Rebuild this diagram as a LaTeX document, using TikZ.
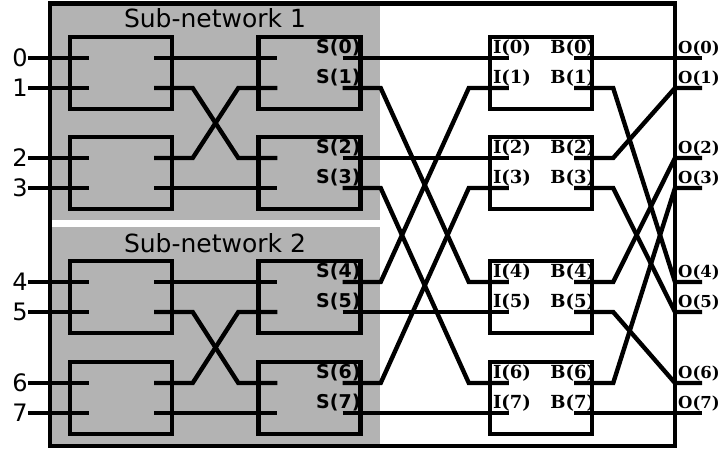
\documentclass[tikz,border=0pt]{standalone}
\usepackage{fontspec}
\setmainfont{DejaVu Sans}
\newfontfamily\portserif{DejaVu Serif}
\usepackage{tikz}
\usetikzlibrary{calc}
\definecolor{subgray}{HTML}{B3B3B3}
\tikzset{
  wire/.style={line width=4.4pt},
  swbox/.style={draw,line width=4.4pt,minimum width=102pt,minimum height=72pt,inner sep=0pt},
  netlab/.style={anchor=base,inner sep=0pt,font=\fontsize{25}{30}\selectfont},
  inlab/.style={anchor=east,inner sep=0pt,font=\fontsize{24}{28}\selectfont},
  slab/.style={anchor=base east,inner sep=0pt,font=\bfseries\fontsize{19}{22}\selectfont},
  plab/.style={anchor=base west,inner sep=0pt,font=\portserif\bfseries\fontsize{18}{21}\selectfont},
  olab/.style={plab,font=\portserif\bfseries\fontsize{16.5}{20}\selectfont},
}
\begin{document}
\begin{tikzpicture}[x=1pt,y=-1pt]
  \useasboundingbox (0,0) rectangle (721,450);
  \fill[subgray] (50,3) rectangle (380,220);
  \fill[subgray] (50,227) rectangle (380,446);
  \node[netlab] (net1) at (215,27) {Sub-network 1};
  \node[netlab] (net2) at (215,252) {Sub-network 2};
  \coordinate (rim) at (675,0);
  % switch boxes: column / centre x, box index / centre y
  \foreach \col/\cx in {A/121,B/309.5,C/541}
    \foreach \bi/\cy in {0/73,1/173,2/297,3/398}{
      \node[swbox] (\col\bi) at (\cx,\cy) {};
      \coordinate (\col\bi-i0) at ($(\col\bi.west)+(21,-15)$);
      \coordinate (\col\bi-i1) at ($(\col\bi.west)+(21,15)$);
      \coordinate (\col\bi-o0) at ($(\col\bi.east)+(-20,-15)$);
      \coordinate (\col\bi-o1) at ($(\col\bi.east)+(-20,15)$);
    }
  % inputs and port labels
  \foreach \k in {0,...,7}{
    \pgfmathtruncatemacro{\bi}{\k/2}
    \pgfmathtruncatemacro{\pp}{mod(\k,2)}
    \node[inlab] (in\k) at ($(A\bi-i\pp)+(-61,0)$) {\k};
    \draw[wire] (in\k.east) -- (A\bi-i\pp);
    \node[slab] (s\k) at ($(B\bi-o\pp)+(18,-5)$) {S(\k)};
    \node[plab] (i\k) at ($(C\bi-i\pp)+(-16,-5)$) {I(\k)};
    \node[plab] (b\k) at ($(C\bi-o\pp)+(-24,-5)$) {B(\k)};
    \coordinate (p\k) at (C\bi-o\pp -| rim);
    \node[olab] (o\k) at ($(p\k)+(3,-5)$) {O(\k)};
  }
  % inside each sub-network
  \foreach \s in {0,2}{
    \pgfmathtruncatemacro{\t}{\s+1}
    \draw[wire] (A\s-o0) -- (B\s-i0);
    \draw[wire] (A\s-o1) -- +(38.5,0) -- ([xshift=-39pt]B\t-i0) -- (B\t-i0);
    \draw[wire] (A\t-o0) -- +(38.5,0) -- ([xshift=-39pt]B\s-i1) -- (B\s-i1);
    \draw[wire] (A\t-o1) -- (B\t-i1);
  }
  % S(k) -> I(j): box/port to box/port
  \foreach \sb/\sp/\tb/\tp in {0/0/0/0,0/1/2/0,1/0/1/0,1/1/3/0,2/0/0/1,2/1/2/1,3/0/1/1,3/1/3/1}
    \draw[wire] (B\sb-o\sp) -- +(38,0) -- ([xshift=-40pt]C\tb-i\tp) -- (C\tb-i\tp);
  % B(k) -> O(j)
  \foreach \sb/\sp/\oj in {0/0/0,0/1/4,1/0/1,1/1/5,2/0/2,2/1/6,3/0/3,3/1/7}
    \draw[wire] (C\sb-o\sp) -- +(39,0) -- (p\oj) -- +(27,0);
  \draw[line width=4.4pt] (50,3.5) rectangle (675,446);
\end{tikzpicture}
\end{document}
